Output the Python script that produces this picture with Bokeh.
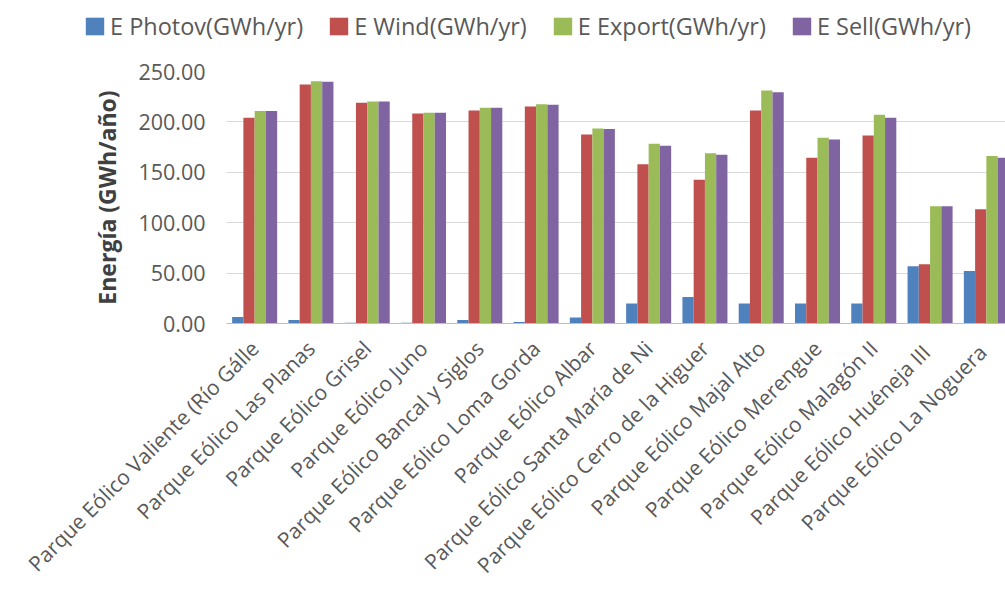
from bokeh.plotting import figure
from bokeh.layouts import column
from bokeh.models import Range1d, FixedTicker, NumeralTickFormatter, Legend, LegendItem, ColumnDataSource
from bokeh.embed import file_html
from bokeh.resources import INLINE
import math

parks = [
    "Parque Eólico Valiente (Río Gálle",
    "Parque Eólico Las Planas",
    "Parque Eólico Grisel",
    "Parque Eólico Juno",
    "Parque Eólico Bancal y Siglos",
    "Parque Eólico Loma Gorda",
    "Parque Eólico Albar",
    "Parque Eólico Santa María de Ni",
    "Parque Eólico Cerro de la Higuer",
    "Parque Eólico Majal Alto",
    "Parque Eólico Merengue",
    "Parque Eólico Malagón II",
    "Parque Eólico  Huéneja III",
    "Parque Eólico  La Noguera",
]
e_photov = [6.5, 3.5, 0.8, 0.8, 3.5, 1.5, 6.0, 19.8, 26.4, 19.8, 19.8, 19.8, 56.8, 52.2]
e_wind = [204.0, 237.0, 219.0, 208.4, 211.4, 215.3, 187.4, 157.9, 142.7, 211.4, 164.5, 186.6, 58.8, 113.3]
e_export = [210.7, 240.4, 220.3, 209.0, 214.0, 217.6, 193.5, 178.3, 169.0, 231.2, 184.3, 207.0, 116.2, 166.1]
e_sell = [210.7, 239.8, 220.3, 209.0, 214.0, 217.0, 193.0, 176.4, 167.4, 229.5, 182.6, 204.0, 116.2, 164.5]
series_names = ["E Photov(GWh/yr)", "E Wind(GWh/yr)", "E Export(GWh/yr)", "E Sell(GWh/yr)"]
y_ticks = [0, 50, 100, 150, 200, 250]

colors = ["#4F81BD", "#C0504D", "#9BBB59", "#8064A2"]
FONT = "Open Sans"
TXT = "#595959"

LEG_H = 48
centers = [i + 0.5 for i in range(len(parks))]
bw = 0.2
sources = []
for k, vals in enumerate([e_photov, e_wind, e_export, e_sell]):
    xs = [c + (k - 1.5) * bw for c in centers]
    sources.append(ColumnDataSource(dict(x=xs, top=vals)))

# legend strip (same series, with an x-range that shows none of the bars)
lg = figure(width=1005, height=LEG_H, output_backend="svg", toolbar_location=None,
            x_range=Range1d(-30, -29), y_range=Range1d(0, 250),
            x_axis_location=None, y_axis_location=None,
            min_border=0, min_border_left=0, min_border_right=0, min_border_top=0, min_border_bottom=0)
lg.frame_align = False
lg.outline_line_color = None
lg.xgrid.visible = False
lg.ygrid.visible = False
proxies = [lg.vbar(x="x", top="top", width=bw, bottom=0, source=s, fill_color=c, line_color=None)
           for s, c in zip(sources, colors)]
legend = Legend(items=[LegendItem(label=n, renderers=[r]) for n, r in zip(series_names, proxies)],
                orientation="horizontal", location=(83, 6),
                label_text_font=FONT, label_text_font_size="23.5px", label_text_color=TXT,
                glyph_width=23, glyph_height=22, label_standoff=4, spacing=24,
                padding=0, margin=0, border_line_color=None, background_fill_alpha=0)
lg.add_layout(legend, "center")

p = figure(width=1005, height=596 - LEG_H, output_backend="svg", toolbar_location=None,
           x_range=Range1d(0, 13.84), y_range=Range1d(0, 250),
           min_border_left=226, min_border_right=0, min_border_top=71 - LEG_H, min_border_bottom=273)
p.frame_align = False
p.outline_line_color = None
for s, c in zip(sources, colors):
    p.vbar(x="x", top="top", width=bw, bottom=0, source=s, fill_color=c, line_color=None)

p.xaxis.ticker = FixedTicker(ticks=centers)
p.xaxis.major_label_overrides = {c: name for c, name in zip(centers, parks)}
p.xaxis.major_label_orientation = math.pi / 4
p.xaxis.major_label_text_font = FONT
p.xaxis.major_label_text_font_size = "21px"
p.xaxis.major_label_text_color = TXT
p.xaxis.major_tick_line_color = None
p.xaxis.minor_tick_line_color = None
p.xaxis.axis_line_color = "#BFBFBF"
p.xaxis.major_label_standoff = 15

p.yaxis.ticker = FixedTicker(ticks=y_ticks)
p.yaxis.formatter = NumeralTickFormatter(format="0.00")
p.yaxis.major_label_text_font = FONT
p.yaxis.major_label_text_font_size = "21.5px"
p.yaxis.major_label_text_color = TXT
p.yaxis.major_tick_line_color = None
p.yaxis.minor_tick_line_color = None
p.yaxis.axis_line_color = None
p.yaxis.major_label_standoff = 15
p.yaxis.axis_label = "Energía (GWh/año)"
p.yaxis.axis_label_text_font = FONT
p.yaxis.axis_label_text_font_style = "bold"
p.yaxis.axis_label_text_font_size = "23px"
p.yaxis.axis_label_text_color = "#404040"
p.yaxis.axis_label_standoff = 12

p.xgrid.grid_line_color = None
p.ygrid.grid_line_color = "#D9D9D9"
p.ygrid.ticker = FixedTicker(ticks=y_ticks)

page = column(lg, p, spacing=0)
open("out.html", "w").write(file_html(page, INLINE))
